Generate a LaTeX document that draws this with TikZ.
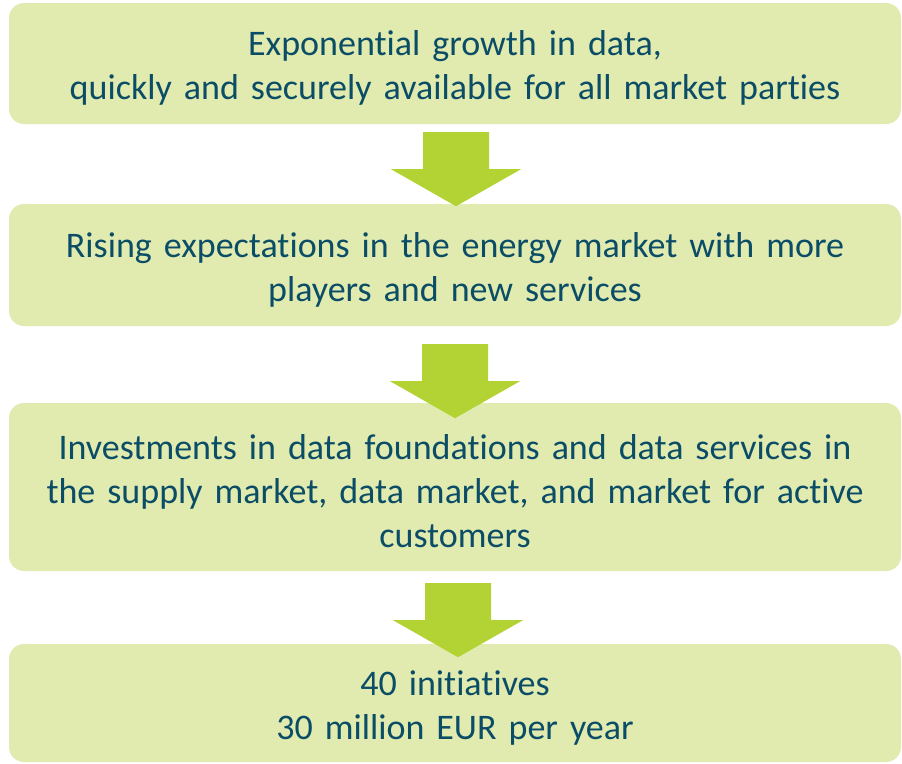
\documentclass[tikz,border=0pt]{standalone}
\usepackage{fontspec}
\usetikzlibrary{calc}
\setmainfont[Ligatures=NoCommon]{Carlito}
\definecolor{boxfill}{HTML}{E1EBAF}
\definecolor{arrowfill}{HTML}{B3D335}
\definecolor{textcol}{HTML}{0B4D66}
\newcommand{\topstrut}{\rule{0pt}{34pt}}
\tikzset{
  flowbox/.style={rectangle, rounded corners=15pt, fill=boxfill, draw=none,
    minimum width=892pt, text width=880pt, align=center, text=textcol,
    font=\fontsize{36}{44}\selectfont, inner sep=0pt},
  downarrow/.style={fill=arrowfill, draw=none}
}
\begin{document}
\begin{tikzpicture}[x=1pt,y=-1pt]
\useasboundingbox (0,0) rectangle (902,763);
\node[flowbox, minimum height=121pt] (b1) at (455,63.5)
  {\topstrut Exponential growth in data,\\quickly and securely available for all market parties};
\node[flowbox, minimum height=122pt] (b2) at (455,265)
  {\topstrut Rising expectations in the energy market with more\\players and new services};
\node[flowbox, minimum height=168pt] (b3) at (455,487)
  {\topstrut Investments in data foundations and data services in\\the supply market, data market, and market for active\\customers};
\node[flowbox, minimum height=118pt] (b4) at (455,703)
  {\topstrut 40 initiatives\\30 million EUR per year};
% arrows: top-centre coordinates of each shaft
\coordinate (a1) at ($(b1.south)+(1,8)$);
\coordinate (a2) at ($(b2.south)+(0,18)$);
\coordinate (a3) at ($(b3.south)+(3,12)$);
\foreach \a in {a1,a2,a3}{
  \fill[downarrow] (\a) ++(-33,0) -- ++(66,0) -- ++(0,37) -- ++(32,0)
    -- ++(-65,37) -- ++(-65,-37) -- ++(32,0) -- cycle;
}
\end{tikzpicture}
\end{document}
